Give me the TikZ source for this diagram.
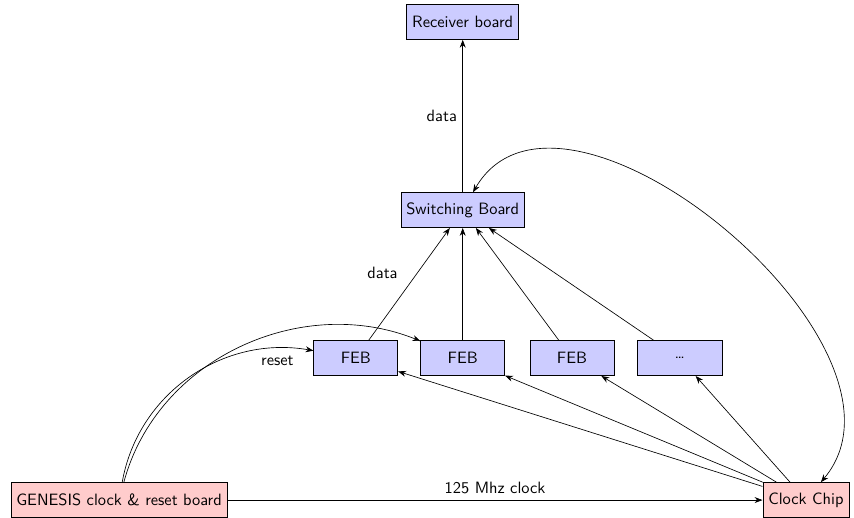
\documentclass[tikz,border=0pt]{standalone}
\usepackage{tikz}
\usetikzlibrary{positioning, arrows.meta}
\renewcommand{\familydefault}{\sfdefault}

\begin{document}
\begin{tikzpicture}[
	>={Stealth},
	board/.style = {draw, rectangle, align=center, fill=blue!20, minimum height=0.75cm},
	feb/.style = {board, minimum width=1.8cm},
	clk/.style = {draw, rectangle, align=center, fill=red!20, minimum height=0.75cm},
	every edge/.style={draw, ->}
]
  \useasboundingbox (0,0) rectangle (18.29,-11.09);
  % Define vertices
  \node[board] at (9.91, -0.47) (recv) {Receiver board};
  \node[board] at (9.91, -4.50) (switch) {Switching Board};
  \node[feb] at (7.62, -7.67) (feb1) {FEB};
  \node[feb] at (9.91, -7.67) (feb2) {FEB};
  \node[feb] at (12.25, -7.67) (feb3) {FEB};
  \node[feb] at (14.56, -7.67) (febn) {\dots};
  \node[clk] at (2.55, -10.71) (genesis) {GENESIS clock \& reset board};
  \node[clk] at (17.26, -10.71) (clock) {Clock Chip};

  \draw (switch) edge node[left] {data} (recv);
  \draw (feb1) edge node[pos=0.6, left=0.3cm] {data} (switch);
  \draw (feb2) edge (switch);
  \draw (feb3) edge (switch);
  \draw (febn) edge (switch);
  \draw (clock) edge (feb1);
  \draw (clock) edge (feb2);
  \draw (clock) edge (feb3);
  \draw (clock) edge (febn);
  \draw (genesis) edge node[above] {125 Mhz clock} (clock);
  \draw (genesis) edge[out=80, in=170] node[at end, below left, xshift=-0.3cm] {reset} (feb1);
  \draw (genesis) edge[out=75, in=158] (feb2);
  \draw (switch) edge[<->, out=60, in=50] (clock);
\end{tikzpicture}
\end{document}
